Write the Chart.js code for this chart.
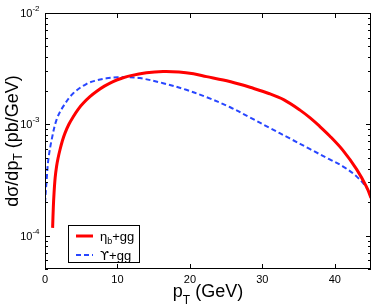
<!DOCTYPE html>
<html>
<head>
<meta charset="utf-8">
<script src="https://cdn.jsdelivr.net/npm/chart.js@4"></script>
<style>
body { margin: 0; background: #fff; }
</style>
</head>
<body>
<canvas id="c" width="374" height="305"></canvas>
<script>
// eta_b + gg (solid red)
const etaPt  = [1.05, 1.15, 1.25, 1.4, 1.6, 1.8, 2.07, 2.4, 2.76, 3.3, 3.9, 4.6, 5.3, 6.2, 7.1, 8.2, 9.4, 10.5, 11.7, 14, 16.3, 18.5, 20.5, 22.3, 24.6, 26.9, 28.3, 31, 33, 35.2, 36.6, 37.9, 39.3, 41.1, 43, 44.4, 45];
const etaVal = [1.17e-4, 1.8e-4, 2.42e-4, 3.3e-4, 4.19e-4, 4.95e-4, 5.9e-4, 7.1e-4, 8.33e-4, 1.0e-3, 1.17e-3, 1.37e-3, 1.55e-3, 1.77e-3, 1.97e-3, 2.2e-3, 2.42e-3, 2.58e-3, 2.72e-3, 2.9e-3, 2.98e-3, 2.95e-3, 2.84e-3, 2.68e-3, 2.5e-3, 2.29e-3, 2.15e-3, 1.88e-3, 1.655e-3, 1.34e-3, 1.14e-3, 9.6e-4, 7.85e-4, 5.85e-4, 3.95e-4, 2.72e-4, 2.18e-4];

// Upsilon + gg (dashed blue)
const upsPt  = [0, 0.23, 0.46, 0.92, 1.6, 2.5, 3.9, 5.75, 7, 8.5, 10, 11.3, 13.1, 16.3, 19.5, 22.3, 25.5, 28.3, 31, 33.8, 36.6, 39.3, 41.1, 43, 44.4, 45];
const upsVal = [1.96e-4, 3.18e-4, 4.8e-4, 7.26e-4, 1.1e-3, 1.44e-3, 1.9e-3, 2.31e-3, 2.47e-3, 2.59e-3, 2.64e-3, 2.65e-3, 2.6e-3, 2.34e-3, 2.04e-3, 1.75e-3, 1.43e-3, 1.15e-3, 9.29e-4, 7.45e-4, 5.97e-4, 4.83e-4, 4.19e-4, 3.4e-4, 2.68e-4, 2.19e-4];

const xTicks = [0, 10, 20, 30, 40];
const yDecades = [-4, -3, -2];
const legendLabels = [['η', 'b', '+gg'], ['ϒ', '', '+gg']];

const FONT = '"Liberation Sans", Arial, Helvetica, sans-serif';
const toXY = (xs, ys) => xs.map((x, i) => ({ x: x, y: ys[i] }));

function drawParts(ctx, x, y, parts, size, subSize, subDrop, firstFont) {
  ctx.font = size + 'px ' + (firstFont || FONT);
  ctx.fillText(parts[0], x, y);
  x += ctx.measureText(parts[0]).width;
  ctx.font = subSize + 'px ' + FONT;
  ctx.fillText(parts[1], x, y + subDrop);
  x += ctx.measureText(parts[1]).width;
  ctx.font = size + 'px ' + FONT;
  ctx.fillText(parts[2], x, y);
}
function partsWidth(ctx, parts, size, subSize) {
  ctx.font = size + 'px ' + FONT;
  let w = ctx.measureText(parts[0]).width + ctx.measureText(parts[2]).width;
  ctx.font = subSize + 'px ' + FONT;
  return w + ctx.measureText(parts[1]).width;
}

const framePlugin = {
  id: 'frame',
  afterDraw(chart) {
    const ctx = chart.ctx, a = chart.chartArea;
    const xs = chart.scales.x, ys = chart.scales.y;
    ctx.save();
    ctx.strokeStyle = '#000';
    ctx.fillStyle = '#000';
    ctx.lineWidth = 1;
    // box
    ctx.strokeRect(a.left + 0.5, a.top + 0.5, a.right - a.left - 1, a.bottom - a.top - 1);
    // x ticks, inward on bottom and top
    ctx.beginPath();
    xTicks.forEach(v => {
      const px = Math.round(xs.getPixelForValue(v)) + 0.5;
      ctx.moveTo(px, a.bottom); ctx.lineTo(px, a.bottom - 5);
      ctx.moveTo(px, a.top); ctx.lineTo(px, a.top + 5);
    });
    // y ticks (log), inward on left and right
    for (let e = -5; e <= -2; e++) {
      for (let m = 1; m <= 9; m++) {
        const v = m * Math.pow(10, e);
        if (v < ys.min * 0.999 || v > ys.max * 1.001) continue;
        const len = m === 1 ? 5 : 3;
        const py = Math.round(ys.getPixelForValue(v)) + 0.5;
        ctx.moveTo(a.left, py); ctx.lineTo(a.left + len, py);
        ctx.moveTo(a.right, py); ctx.lineTo(a.right - len, py);
      }
    }
    ctx.stroke();
    // y tick labels 10^n
    ctx.textBaseline = 'alphabetic';
    yDecades.forEach(e => {
      const py = ys.getPixelForValue(Math.pow(10, e));
      const exp = String(e);
      ctx.font = '8px ' + FONT;
      const we = ctx.measureText(exp).width;
      const xe = 39.5 - we;
      ctx.fillText(exp, xe, py - 2);
      ctx.font = '11px ' + FONT;
      const wb = ctx.measureText('10').width;
      ctx.fillText('10', xe - wb, py + 4);
    });
    // x axis title
    const xt = ['p', 'T', ' (GeV)'];
    let w = partsWidth(ctx, xt, 18, 12);
    drawParts(ctx, (a.left + a.right) / 2 - w / 2, 297, xt, 18, 12, 7);
    // y axis title
    ctx.save();
    ctx.translate(18, (a.top + a.bottom) / 2);
    ctx.rotate(-Math.PI / 2);
    const yt = ['dσ/dp', 'T', ' (pb/GeV)'];
    w = partsWidth(ctx, yt, 18, 12);
    drawParts(ctx, -w / 2, 0, yt, 18, 12, 4);
    ctx.restore();
    // legend
    const bx = 68.5, by = 225.5, bw = 71, bh = 37;
    ctx.fillStyle = '#fff';
    ctx.fillRect(bx, by, bw, bh);
    ctx.strokeRect(bx, by, bw, bh);
    chart.data.datasets.forEach((ds, i) => {
      const ly = i === 0 ? 236 : 255;
      ctx.save();
      ctx.strokeStyle = ds.borderColor;
      ctx.lineWidth = ds.borderWidth;
      ctx.setLineDash(ds.borderDash || []);
      ctx.beginPath();
      ctx.moveTo(76, ly); ctx.lineTo(93, ly);
      ctx.stroke();
      ctx.restore();
      ctx.fillStyle = '#000';
      drawParts(ctx, 100, ly + 4.5, legendLabels[i], 13, 9, 3, i === 1 ? '"DejaVu Sans", sans-serif' : null);
    });
    ctx.restore();
  }
};

new Chart(document.getElementById('c').getContext('2d'), {
  type: 'line',
  data: {
    datasets: [{
      label: 'ηb+gg',
      data: toXY(etaPt, etaVal),
      borderColor: '#ff0000',
      borderWidth: 3,
      pointRadius: 0,
      tension: 0.35,
      fill: false
    }, {
      label: 'ϒ+gg',
      data: toXY(upsPt, upsVal),
      borderColor: 'rgb(40,70,255)',
      borderWidth: 2,
      borderDash: [5, 3],
      pointRadius: 0,
      tension: 0.35,
      fill: false
    }]
  },
  options: {
    responsive: false,
    animation: false,
    layout: { padding: { top: 13, right: 3, left: 0, bottom: 0 } },
    plugins: { legend: { display: false }, tooltip: { enabled: false } },
    scales: {
      x: {
        type: 'linear',
        min: 0,
        max: 45,
        afterBuildTicks: s => { s.ticks = xTicks.map(v => ({ value: v })); },
        afterFit: s => { s.height = 36; },
        grid: { display: false, drawTicks: false },
        border: { display: false },
        ticks: { font: { family: FONT, size: 11 }, color: '#000', padding: 4, maxRotation: 0 }
      },
      y: {
        type: 'logarithmic',
        min: 5e-5,
        max: 1e-2,
        afterFit: s => { s.width = 45; },
        grid: { display: false, drawTicks: false },
        border: { display: false },
        ticks: { display: false }
      }
    }
  },
  plugins: [framePlugin]
});
</script>
</body>
</html>
